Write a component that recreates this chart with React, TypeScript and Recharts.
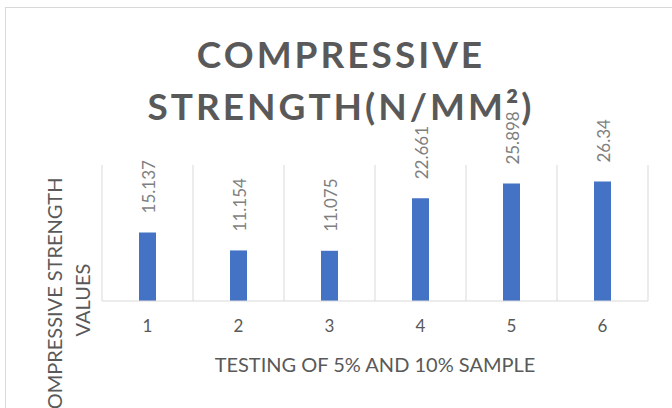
import { Bar, BarChart, CartesianGrid, LabelList, XAxis, YAxis } from "recharts";

const samples = ["1", "2", "3", "4", "5", "6"];
const strength = [15.137, 11.154, 11.075, 22.661, 25.898, 26.34];
const titleLines = ["COMPRESSIVE", "STRENGTH(N/MM²)"];
const yTitleLines = ["COMPRESSIVE STRENGTH", "VALUES"];
const xTitle = "TESTING OF 5% AND 10% SAMPLE";

const data = samples.map((s, i) => ({ sample: s, value: strength[i] }));

const W = 672;
const H = 408;
const FONT = "Lato, 'Open Sans', sans-serif";
const TEXT = "#595959";

// Excel draws vertical gridlines on the category boundaries, not the centers
const boundaryLines = ({ offset }: any) =>
  samples.concat("").map((_, i) => offset.left + (i * offset.width) / samples.length);

const ValueLabel = (props: any) => {
  const { x, y, width, value } = props;
  const cx = x + width / 2 + 2;
  const cy = y - 19;
  return (
    <text
      x={cx}
      y={cy}
      dy="0.35em"
      transform={`rotate(-90 ${cx} ${cy})`}
      textAnchor="start"
      fill="#7f7f7f"
      fontSize={17}
      fontFamily={FONT}
    >
      {value}
    </text>
  );
};

export default function App() {
  return (
    <div style={{ position: "absolute", left: 0, top: 0, width: W, height: H, overflow: "hidden", background: "#fff" }}>
      <div
        style={{
          position: "absolute",
          left: 5,
          top: 7,
          width: W + 20,
          height: H + 20,
          border: "1px solid #d9d9d9",
        }}
      />
      <BarChart
        width={W}
        height={H}
        data={data}
        margin={{ top: 165, right: 24, left: 102, bottom: 77 }}
        barCategoryGap={0}
      >
        <CartesianGrid
          horizontal={false}
          stroke="#d9d9d9"
          verticalCoordinatesGenerator={boundaryLines}
        />
        <YAxis hide domain={[0, 30]} />
        <XAxis
          dataKey="sample"
          height={30}
          axisLine={{ stroke: "#d9d9d9" }}
          tickLine={false}
          tickMargin={13}
          tick={{ fill: TEXT, fontSize: 17, fontFamily: FONT }}
        />
        <Bar dataKey="value" fill="#4472C4" barSize={17} isAnimationActive={false}>
          <LabelList dataKey="value" content={ValueLabel} />
        </Bar>
      </BarChart>
      <svg width={W} height={H} style={{ position: "absolute", left: 0, top: 0, pointerEvents: "none" }}>
        <g fill={TEXT} fontFamily={FONT} textAnchor="middle">
          {titleLines.map((t, i) => (
            <text key={t} x={341} y={68 + i * 52} fontSize={37} fontWeight={700} letterSpacing={3}>
              {t}
            </text>
          ))}
          <text x={375} y={372} fontSize={20}>
            {xTitle}
          </text>
          {yTitleLines.map((t, i) => {
            const cx = 55 + i * 28;
            const cy = 300;
            return (
              <text
                key={t}
                x={cx}
                y={cy}
                dy="0.35em"
                fontSize={20}
                transform={`rotate(-90 ${cx} ${cy})`}
              >
                {t}
              </text>
            );
          })}
        </g>
      </svg>
    </div>
  );
}
